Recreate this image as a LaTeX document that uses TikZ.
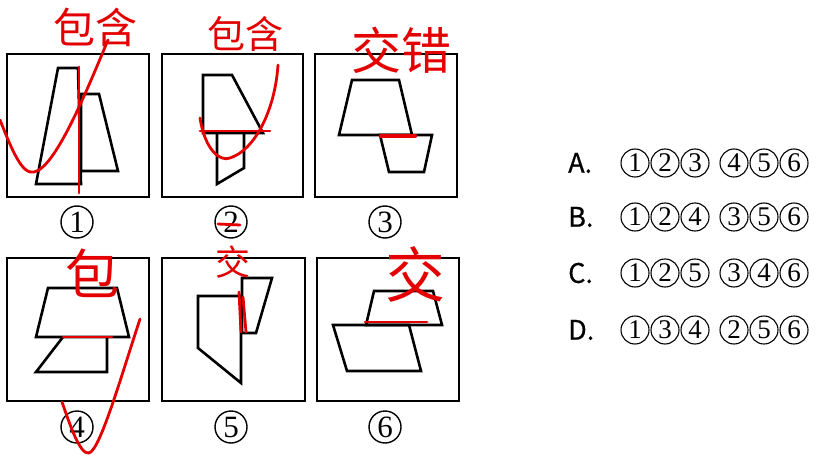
\documentclass[tikz,border=0pt]{standalone}
\usepackage{fontspec}
\newfontfamily\cjk{Noto Sans CJK SC}
\newfontfamily\letf[FakeBold=0.6]{Noto Sans CJK SC}
\newfontfamily\srf{Liberation Serif}
\definecolor{ink}{RGB}{228,0,0}
\begin{document}
\begin{tikzpicture}[x=1pt,y=-1pt,
  frame/.style={draw=black,line width=2.8pt},
  fig/.style={draw=black,line width=2.6pt,line join=miter},
  pen/.style={draw=ink,line width=2.8pt,line cap=round,line join=round},
  hand/.style={text=ink,font=\cjk\fontsize{#1}{#1}\selectfont,inner sep=0pt},
  lbl/.style={circle,draw=black,line width=1.4pt,minimum size=32pt,inner sep=0pt,
    font=\srf\fontsize{31}{31}\selectfont},
  opt/.style={circle,draw=black,line width=1.1pt,minimum size=28pt,inner sep=0pt,
    font=\srf\fontsize{27}{27}\selectfont},
  letter/.style={font=\letf\fontsize{27}{27}\selectfont,inner sep=0pt,anchor=west}]
\useasboundingbox (0,0) rectangle (834,470);
\fill[white] (0,0) rectangle (834,470);

% frames
\draw[frame] (7,54) rectangle (149,197);
\draw[frame] (162,54) rectangle (303,197);
\draw[frame] (315,54) rectangle (457,197);
\draw[frame] (7,258) rectangle (149,401);
\draw[frame] (162,258) rectangle (305,401);
\draw[frame] (317,258) rectangle (459,401);

% figure 1
\draw[fig] (58,68) -- (78,68) -- (81,184) -- (36,184) -- cycle;
\draw[fig] (81,94) -- (99,94) -- (118,171) -- (81,171) -- cycle;
% figure 2
\draw[fig] (203,75) -- (232,75) -- (263,133) -- (203,133) -- cycle;
\draw[fig] (217,133) -- (217,184) -- (244,168) -- (244,133);
% figure 3
\draw[fig] (352,80) -- (399,80) -- (412,135) -- (339,135) -- cycle;
\draw[fig] (380,135) -- (432,135) -- (424,172) -- (389,172) -- cycle;
% figure 4
\draw[fig] (48,288) -- (117,288) -- (129,337) -- (36,337) -- cycle;
\draw[fig] (63,337) -- (36,372) -- (107,372) -- (107,337);
% figure 5
\draw[fig] (198,296) -- (241,296) -- (241,383) -- (198,348) -- cycle;
\draw[fig] (242,278) -- (272,278) -- (256,333) -- (242,333) -- cycle;
% figure 6
\draw[fig] (374,291) -- (433,291) -- (442,325) -- (366,325) -- cycle;
\draw[fig] (333,325) -- (409,325) -- (421,371) -- (347,371) -- cycle;

% labels under frames
\node[lbl] (l1) at (77,222) {1};
\node[lbl] (l2) at (231,222) {2};
\node[lbl] (l3) at (385,222) {3};
\node[lbl] (l4) at (77,427) {4};
\node[lbl] (l5) at (231,427) {5};
\node[lbl] (l6) at (385,427) {6};

% options
\foreach \l/\y/\a/\b/\c/\d/\e/\f in
  {A/163/1/2/3/4/5/6, B/217/1/2/4/3/5/6,
   C/273/1/2/5/3/4/6, D/330/1/3/4/2/5/6}{
  \node[letter] (o\l) at (568,\y) {\l.};
  \node[opt] (o\l1) at (635,\y) {\a};
  \node[opt] (o\l2) at (665,\y) {\b};
  \node[opt] (o\l3) at (695,\y) {\c};
  \node[opt] (o\l4) at (734,\y) {\d};
  \node[opt] (o\l5) at (764,\y) {\e};
  \node[opt] (o\l6) at (794,\y) {\f};
}

% red handwriting
\node[hand=42] (h1) at (95,27) {包含};
\node[hand=38] (h2) at (245,34) {包含};
\node[hand=50] (h3) at (401,50) {交错};
\node[hand=54] (h4) at (92,273) {包};
\node[hand=35] (h5) at (233,262) {交};
\node[hand=60] (h6) at (415,274) {交};

% red marks
\draw[pen] (0,120) .. controls (12,150) and (22,175) .. (34,172)
  .. controls (55,168) and (85,95) .. (108,40);
\draw[pen] (79,67) -- (79,193);
\draw[pen] (200,118) .. controls (205,150) and (220,162) .. (230,158)
  .. controls (255,150) and (275,110) .. (278,65);
\draw[pen] (200,131) -- (270,131);
\draw[pen] (218,224) -- (240,225);
\draw[pen,line width=4.5pt] (381,136) -- (415,136);
\draw[pen] (63,337) -- (112,337);
\draw[pen] (62,402) .. controls (70,425) and (80,455) .. (89,453)
  .. controls (100,450) and (120,380) .. (140,319);
\draw[pen] (239,292) -- (241,332);
\draw[pen] (243,297) -- (246,332);
\draw[pen] (365,322) -- (427,322);
\end{tikzpicture}
\end{document}
